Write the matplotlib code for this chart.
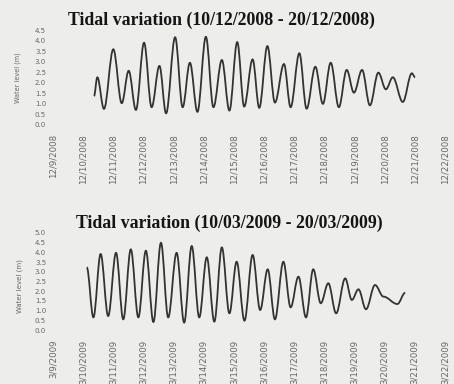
import matplotlib
matplotlib.use("Agg")
import matplotlib.pyplot as plt
from matplotlib.path import Path
from matplotlib.patches import PathPatch

# ---- data ----
# time as day of month, water level in m (high / low water turning points)
dec_time = [10.36, 10.47, 10.69, 11.00, 11.28, 11.51, 11.75, 12.02, 12.27, 12.53,
            12.75, 13.05, 13.30, 13.54, 13.79, 14.07, 14.32, 14.60, 14.85, 15.11,
            15.34, 15.62, 15.84, 16.11, 16.36, 16.66, 16.88, 17.17, 17.41, 17.70,
            17.95, 18.21, 18.48, 18.74, 18.98, 19.25, 19.51, 19.79, 20.04, 20.27,
            20.60, 20.90, 21.01]
dec_level = [1.37, 2.26, 0.76, 3.59, 1.03, 2.57, 0.71, 3.90, 0.84, 2.80,
             0.55, 4.16, 0.84, 2.95, 0.62, 4.18, 0.84, 3.08, 0.68, 3.93,
             0.87, 3.11, 0.81, 3.74, 1.06, 2.89, 0.84, 3.40, 0.77, 2.76,
             1.00, 2.95, 0.84, 2.61, 1.53, 2.61, 0.93, 2.48, 1.69, 2.26,
             1.09, 2.45, 2.26]

mar_time = [10.12, 10.34, 10.58, 10.83, 11.09, 11.33, 11.58, 11.83, 12.08, 12.33,
            12.58, 12.82, 13.10, 13.35, 13.60, 13.85, 14.10, 14.35, 14.60, 14.85,
            15.09, 15.35, 15.62, 15.87, 16.12, 16.36, 16.64, 16.88, 17.14, 17.39,
            17.63, 17.88, 18.13, 18.39, 18.69, 18.91, 19.13, 19.38, 19.68, 19.96,
            20.42, 20.68]
mar_level = [3.23, 0.65, 3.92, 0.72, 3.98, 0.55, 4.16, 0.65, 4.09, 0.41,
             4.50, 0.65, 3.98, 0.38, 4.33, 0.65, 3.75, 0.43, 4.26, 0.86,
             3.52, 0.48, 3.87, 1.03, 3.13, 0.55, 3.52, 1.17, 2.75, 0.65,
             3.13, 1.38, 2.41, 0.86, 2.66, 1.55, 2.10, 1.07, 2.32, 1.72,
             1.34, 1.92]

tick_days = list(range(9, 23))
dec_ticklabels = ["12/%d/2008" % d for d in tick_days]
mar_ticklabels = ["3/%d/2009" % d for d in tick_days]

dec_yticks = [0.0, 0.5, 1.0, 1.5, 2.0, 2.5, 3.0, 3.5, 4.0, 4.5]
mar_yticks = [0.0, 0.5, 1.0, 1.5, 2.0, 2.5, 3.0, 3.5, 4.0, 4.5, 5.0]

titles = ["Tidal variation (10/12/2008 - 20/12/2008)",
          "Tidal variation (10/03/2009 - 20/03/2009)"]
ylabel = "Water level (m)"

BG = "#ededeb"
LINE = "#333333"
TXT = "#666666"

W, H = 454, 384
fig = plt.figure(figsize=(W / 100, H / 100), dpi=100, facecolor=BG)


def smooth_path(ts, ys, k=0.36):
    verts = [(ts[0], ys[0])]
    codes = [Path.MOVETO]
    for i in range(len(ts) - 1):
        t0, y0, t1, y1 = ts[i], ys[i], ts[i + 1], ys[i + 1]
        dt = t1 - t0
        verts += [(t0 + k * dt, y0), (t1 - k * dt, y1), (t1, y1)]
        codes += [Path.CURVE4] * 3
    return Path(verts, codes)


def make_axes(px_left, px_right, px_top, px_bottom):
    return fig.add_axes([px_left / W, 1 - px_bottom / H,
                         (px_right - px_left) / W, (px_bottom - px_top) / H])


panels = [
    dict(t=dec_time, y=dec_level, xl=dec_ticklabels, yt=dec_yticks,
         ylim=(-0.2, 4.6), box=(53, 445, 27.9, 129.2), title=titles[0],
         tpos=(68, 24.5), ylab=(17.5, 78), ylfs=4.7),
    dict(t=mar_time, y=mar_level, xl=mar_ticklabels, yt=mar_yticks,
         ylim=(-0.25, 5.2), box=(53, 445, 229.1, 334.9), title=titles[1],
         tpos=(76, 227.5), ylab=(19.5, 286), ylfs=5.0),
]

for p in panels:
    ax = make_axes(*p["box"])
    ax.set_facecolor(BG)
    ax.add_patch(PathPatch(smooth_path(p["t"], p["y"]), facecolor="none",
                           edgecolor=LINE, lw=1.3, joinstyle="round"))
    ax.set_xlim(9, 22)
    ax.set_ylim(*p["ylim"])
    ax.set_xticks(tick_days)
    ax.set_xticklabels(p["xl"], rotation=90, fontsize=6.2, color=TXT,
                       family="DejaVu Sans")
    ax.set_yticks(p["yt"])
    ax.set_yticklabels(["%.1f" % v for v in p["yt"]], fontsize=5, color=TXT)
    ax.tick_params(axis="x", length=0, pad=3.5)
    ax.tick_params(axis="y", length=0, pad=5)
    for s in ax.spines.values():
        s.set_visible(False)
    fig.text(p["tpos"][0] / W, 1 - p["tpos"][1] / H, p["title"],
             ha="left", va="baseline", family="Liberation Serif",
             weight="bold", fontsize=12.8, color="#151515")
    fig.text(p["ylab"][0] / W, 1 - p["ylab"][1] / H, ylabel, rotation=90,
             ha="center", va="center", fontsize=p["ylfs"], color=TXT)

fig.savefig("out.png", dpi=100, facecolor=BG)
